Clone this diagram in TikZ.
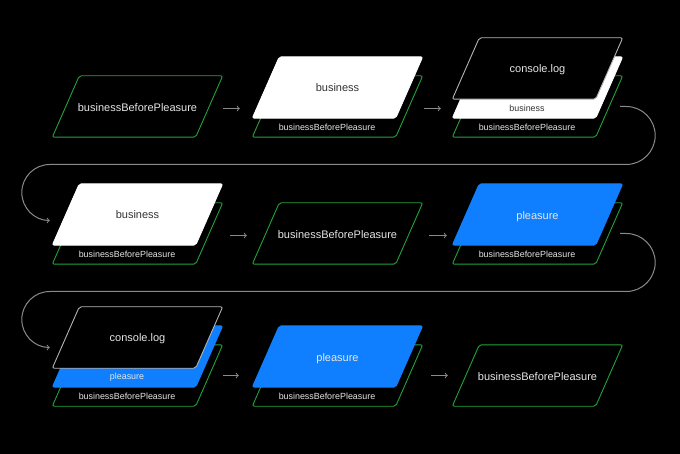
\documentclass[tikz,border=0pt]{standalone}
\usepackage{fontspec}
\setmainfont{Liberation Sans}
\definecolor{pgreen}{HTML}{22A33B}
\definecolor{pblue}{HTML}{0F7FFF}
\definecolor{pline}{HTML}{8A8A8A}
\definecolor{plog}{HTML}{B4B4B4}
\definecolor{lighttext}{HTML}{E6E6E6}
\definecolor{darktext}{HTML}{333333}
\newcommand\plane[3]{%
  \filldraw[#1] ([shift={(-13.5,#3)}]#2.south west) -- ([shift={(-13.5,#3)}]#2.south east)
    -- ([shift={(13.5,#3)}]#2.north east) -- ([shift={(13.5,#3)}]#2.north west) -- cycle;}
\begin{document}
\begin{tikzpicture}[x=1pt,y=1pt,
    slot/.style={minimum width=143pt,minimum height=61pt,inner sep=0pt},
    greenplane/.style={fill=black,draw=pgreen,line width=0.9pt,rounded corners=2pt},
    whiteplane/.style={fill=white,draw=white,line width=0.9pt,rounded corners=2pt},
    blueplane/.style={fill=pblue,draw=pblue,line width=0.9pt,rounded corners=2pt},
    logplane/.style={fill=black,draw=plog,line width=0.9pt,rounded corners=2pt},
    big/.style={font=\fontsize{11}{13}\selectfont,text=lighttext},
    small/.style={font=\fontsize{8.9}{10}\selectfont,text=lighttext},
    flow/.style={draw=pline,line width=1pt}]
    \fill[black] (0,0) rectangle (680,-454);
    \useasboundingbox (0,0) rectangle (680,-454);
    \foreach \n/\x/\y in {1/137.5/-106.5,2/337.5/-106.5,3/537.5/-106.5,
                          4/137.5/-233.5,5/337.5/-233.5,6/537.5/-233.5,
                          7/137.5/-375.5,8/337.5/-375.5,9/537.5/-375.5}
        \node [slot] (s\n) at (\x,\y) {};
    % first row
    \plane{greenplane}{s1}{0}
    \node [big] (l1) at ([yshift=-1]s1.center) {businessBeforePleasure};
    \plane{greenplane}{s2}{0}
    \node [small] (l2a) at ([shift={(-10.5,-21)}]s2.center) {businessBeforePleasure};
    \plane{whiteplane}{s2}{19}
    \node [big,text=darktext] (l2b) at ([yshift=19]s2.center) {business};
    \plane{greenplane}{s3}{0}
    \node [small] (l3a) at ([shift={(-10.5,-21)}]s3.center) {businessBeforePleasure};
    \plane{whiteplane}{s3}{19}
    \node [small,text=darktext] (l3b) at ([shift={(-10.5,-2)}]s3.center) {business};
    \plane{logplane}{s3}{38}
    \node [big] (l3c) at ([yshift=37]s3.center) {console.log};
    % second row
    \plane{greenplane}{s4}{0}
    \node [small] (l4a) at ([shift={(-10.5,-21)}]s4.center) {businessBeforePleasure};
    \plane{whiteplane}{s4}{19}
    \node [big,text=darktext] (l4b) at ([yshift=19]s4.center) {business};
    \plane{greenplane}{s5}{0}
    \node [big] (l5) at ([yshift=-1]s5.center) {businessBeforePleasure};
    \plane{greenplane}{s6}{0}
    \node [small] (l6a) at ([shift={(-10.5,-21)}]s6.center) {businessBeforePleasure};
    \plane{blueplane}{s6}{19}
    \node [big] (l6b) at ([yshift=17]s6.center) {pleasure};
    % third row
    \plane{greenplane}{s7}{0}
    \node [small] (l7a) at ([shift={(-10.5,-21)}]s7.center) {businessBeforePleasure};
    \plane{blueplane}{s7}{19}
    \node [small] (l7b) at ([shift={(-10.5,-2)}]s7.center) {pleasure};
    \plane{logplane}{s7}{38}
    \node [big] (l7c) at ([yshift=37]s7.center) {console.log};
    \plane{greenplane}{s8}{0}
    \node [small] (l8a) at ([shift={(-10.5,-21)}]s8.center) {businessBeforePleasure};
    \plane{blueplane}{s8}{19}
    \node [big] (l8b) at ([yshift=17]s8.center) {pleasure};
    \plane{greenplane}{s9}{0}
    \node [big] (l9) at ([yshift=-1]s9.center) {businessBeforePleasure};
    % arrows
    \draw [flow,->] ([shift={(14,-2)}]s1.east) -- ([shift={(-26,-2)}]s2.west);
    \draw [flow,->] ([shift={(15,-2)}]s2.east) -- ([shift={(-25,-2)}]s3.west);
    \draw [flow,->] ([shift={(21,-2)}]s4.east) -- ([shift={(-19,-2)}]s5.west);
    \draw [flow,->] ([shift={(20,-2)}]s5.east) -- ([shift={(-19,-2)}]s6.west);
    \draw [flow,->] ([xshift=14]s7.east) -- ([xshift=-27]s8.west);
    \draw [flow,->] ([xshift=22]s8.east) -- ([xshift=-18]s9.west);
    \draw [flow,->] ([xshift=11]s3.east) -- ++(6,0) arc[start angle=90,end angle=-90,radius=29pt]
        -- ([shift={(-16,69)}]s4.west) arc[start angle=90,end angle=270,radius=28pt];
    \draw [flow,->] ([xshift=11]s6.east) -- ++(6,0) arc[start angle=90,end angle=-90,radius=29pt]
        -- ([shift={(-16,84)}]s7.west) arc[start angle=90,end angle=270,radius=28pt];
\end{tikzpicture}
\end{document}
